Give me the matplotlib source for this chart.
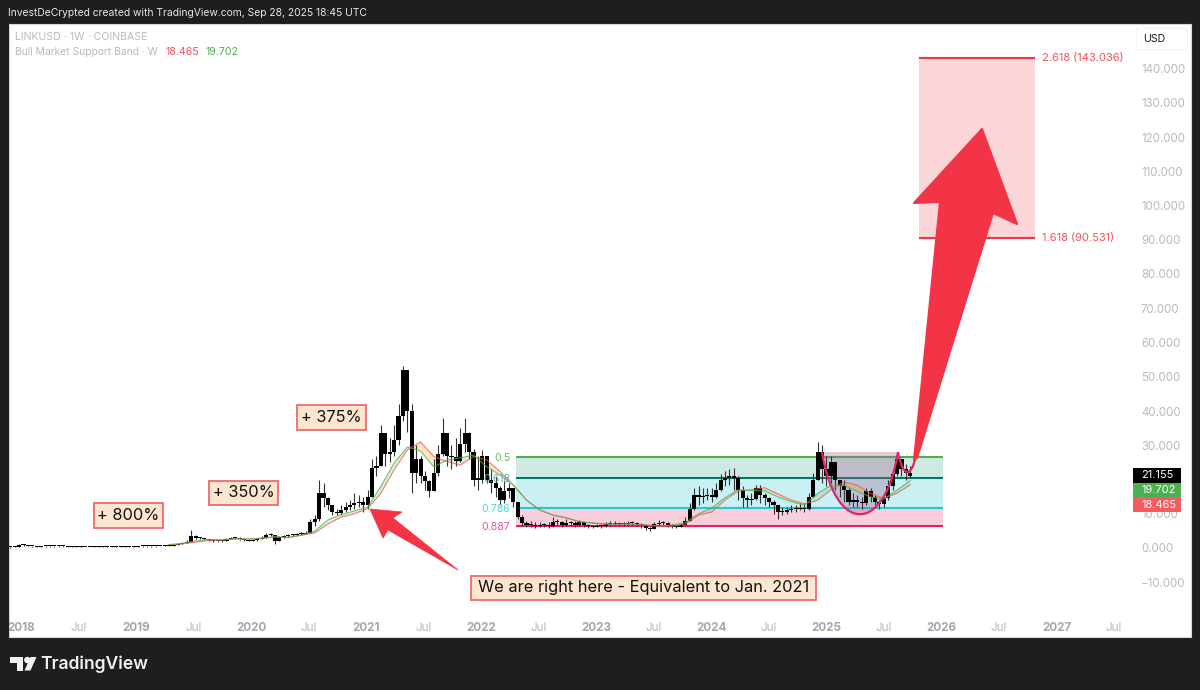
import numpy as np
import pandas as pd
import matplotlib
matplotlib.use("Agg")
import matplotlib.pyplot as plt
import matplotlib.dates as mdates
from matplotlib.patches import Polygon, Rectangle, Circle, PathPatch
from matplotlib.path import Path
from matplotlib.transforms import Affine2D

plt.rcParams['font.family'] = ['Inter', 'DejaVu Sans']

# ---------- data ----------
start_date = '2017-11-28'
closes = [
 0.2,0.3,0.8,0.9,0.7,0.5,0.4,0.5,0.5,0.5,
 0.5,0.5,0.45,0.4,0.4,0.35,0.35,0.3,0.3,0.35,
 0.35,0.4,0.4,0.4,0.4,0.4,0.4,0.4,0.4,0.45,
 0.45,0.5,0.5,0.5,0.5,0.6,0.7,0.9,1.2,1.5,
 1.8,3.5,3.0,2.8,2.5,2.3,2.0,1.9,2.1,2.5,
 2.8,3.0,2.6,2.2,2.1,2.2,2.6,3.0,3.8,3.8,
 2.1,3.2,3.6,3.7,3.9,4.0,4.2,4.5,7.5,8.5,
 16,14.5,12.5,10.5,10.2,11,12,12.5,13,13.5,
 12.5,15,23.5,24,33.5,27.5,28,31.5,38.5,52,
 40,22,26,21,19.5,16.5,22,27.5,33.5,27,
 26.5,25.5,30.5,33.5,28,20,20,27,20,19,
 17.5,14,16.5,17.5,13.5,9,7.2,6.8,6.7,6.5,
 6.8,6.6,6.3,7.5,7.5,6.8,7.3,7.2,6.8,7.6,
 6.6,6.3,6.2,6.5,6.3,7,7.1,7.2,7,7,
 7.4,7.2,7,6.6,5.9,5.6,6.9,7.4,7.2,6.6,
 6.4,6.2,6.8,8,11.5,15.5,15,15.3,15.6,15,
 17,20,20.5,21,20.5,17,14.5,14,14.3,17.5,
 15.5,14.5,13.5,12.5,10.5,10.5,11,11.5,11.5,11.8,
 11.5,15,20,28,23,21,25,20,18,17,
 13.5,14,13.5,13,16.5,15,13.5,12.8,14.5,18,
 21.5,26,23,22,21.155]
highs = [
 0.3,0.5,1.1,1.2,0.9,0.7,0.6,0.6,0.6,0.6,
 0.6,0.6,0.55,0.5,0.5,0.45,0.45,0.4,0.4,0.45,
 0.45,0.5,0.5,0.5,0.5,0.5,0.5,0.5,0.5,0.55,
 0.55,0.6,0.6,0.6,0.65,0.8,0.9,1.1,1.4,1.7,
 2.2,5.2,3.8,3.1,2.9,2.6,2.3,2.1,2.4,2.8,
 3.1,3.3,3.1,2.7,2.3,2.5,2.9,3.5,4.4,4.3,
 3.9,3.5,3.9,4.0,4.2,4.4,4.7,5.0,8.6,9.5,
 20,19,15,12.5,11.5,12.5,13.5,14,16,15.5,
 15,17,26,27,36,33,32,36,42,53,
 52,42,30,27,22.5,20,26,30,38,32,
 30,32,35,38,34,29,27,28.5,27,23,
 21,18,19.5,19,17,13,9.5,8,7.8,7.5,
 7.5,7.2,7.5,9,8.6,7.8,8.4,8,7.8,8.3,
 7.6,7,6.8,7,7,7.6,7.8,7.9,7.7,7.5,
 7.9,7.8,7.6,7.2,6.8,6.2,7.5,8.2,8.0,7.5,
 7,6.8,7.4,9,13,17.5,18,17.5,17.5,17.5,
 19,21.5,22.5,23,23.5,21,18,15.5,16,18.5,
 18.5,16,15,14,12.5,12,12,12.5,12.5,13,
 13,16,22,31,30,27,27,24,20,20,
 17.5,16,15.5,15,17.5,17.5,15.5,14,16,20,
 23,27.5,26,24.5,24]
lows = [
 0.1,0.2,0.3,0.6,0.5,0.4,0.3,0.4,0.4,0.4,
 0.4,0.4,0.35,0.3,0.3,0.3,0.25,0.25,0.25,0.3,
 0.3,0.3,0.3,0.3,0.3,0.3,0.3,0.3,0.3,0.4,
 0.4,0.4,0.4,0.4,0.45,0.5,0.6,0.7,0.9,1.1,
 1.4,1.8,2.7,2.5,2.2,2.0,1.8,1.7,1.8,2.1,
 2.5,2.5,2.2,2.0,1.9,2.0,2.1,2.5,2.9,3.4,
 1.2,2.0,3.0,3.2,3.4,3.7,3.8,4.0,4.3,6.5,
 8,12,11,9.5,9.5,9.5,10.5,11,11.5,12,
 10.5,11.5,15,21,24,24,25,27,30,37,
 34,16,19,19,17,15,16.5,21,27,24,
 23,24,25,28,26,18,17,19,19,16,
 15,12.5,13,14.5,12,8.5,6.5,6.0,6,5.8,
 6,6,5.7,6,6.6,6,6.5,6.5,6,6.5,
 6,5.7,5.7,6,5.8,6.2,6.5,6.6,6.4,6.5,
 6.8,6.6,6.3,5.9,5.2,5,5.6,6.8,6.5,6.2,
 5.9,5.7,6,6.8,8,11,12.5,13,14,13.5,
 14.5,16.5,18,18.5,17,14,12,12,12.5,14,
 13,12.5,12,10,8.5,9.5,10,10.5,10.5,11,
 10.5,11,15,20,19,18,19,17,15,13.5,
 12.5,12,12,11.5,12.5,13.5,12.5,11.5,12,14,
 17,21,21,20,20.5]

band_red = [
 1.0,1.2,1.7,2.2,2.3,2.7,2.6,2.8,3.2,3.0,3.7,4.4,7.0,9.0,10.0,11.5,16.0,22.8,28.6,31.0,
 26.7,25.2,24.2,26.7,25.7,22.3,18.4,14.0,11.1,9.6,8.8,7.7,7.3,7.0,7.0,7.0,6.7,6.4,6.4,7.0,
 9.6,10.5,14.0,16.6,17.0,17.6,15.8,14.0,12.9,13.9,17.0,19.3,18.3,15.9,14.5,16.0,18.465]
band_green = [
 1.0,1.3,2.1,2.5,2.4,2.7,2.6,2.9,3.3,3.1,3.8,4.9,8.2,9.8,10.8,12.0,18.0,24.8,29.5,28.3,
 23.7,25.7,26.3,27.1,23.7,21.3,18.4,14.0,11.1,9.6,8.8,7.7,7.3,7.0,7.0,7.0,6.7,6.4,6.7,7.4,
 10.0,11.7,14.7,17.0,16.8,16.7,14.9,13.5,12.5,15.9,18.3,18.3,16.5,14.9,14.3,16.9,19.702]

fib_ratios = ['0.5', '0.618', '0.786', '0.887']
fib_prices = [26.5, 20.4, 11.7, 6.3]
fib_dates = ['2022-04-20', '2026-01-05']
fib_line_colors = ['#4caf50', '#00796b', '#26c6da', '#e91e63']
fib_text_colors = ['#66bb6a', '#4db6ac', '#4dd0e1', '#e0559b']
fib_fill_colors = ['#cfe9e2', '#c9f0f3', '#f9cfdc']

target_labels = ['2.618 (143.036)', '1.618 (90.531)']
target_prices = [143.036, 90.531]
target_dates = ['2025-10-20', '2026-10-23']

price_ticks = list(range(-10, 150, 10))
year_ticks = [2018, 2019, 2020, 2021, 2022, 2023, 2024, 2025, 2026, 2027]
callouts = ['+ 800%', '+ 350%', '+ 375%', 'We are right here - Equivalent to Jan. 2021']
badges = [('21.155', '#000000'), ('19.702', '#4caf50'), ('18.465', '#f75a5f')]

# ---------- figure ----------
DARK = '#1e1e1e'
fig = plt.figure(figsize=(12, 6.9), dpi=100, facecolor=DARK)
PX = Affine2D().scale(1 / 1200, -1 / 690).translate(0, 1) + fig.transFigure

fig.patches.append(Rectangle((9, 24), 1182, 613, transform=PX, facecolor='white',
                             edgecolor='#d5d5d5', linewidth=0.8, zorder=-1))

L, R, T, B = 9, 1125, 24, 612
ax = fig.add_axes([L / 1200, 1 - B / 690, (R - L) / 1200, (B - T) / 690], facecolor='none')
d2018 = mdates.date2num(pd.Timestamp('2018-01-01'))
ppd = 115.1 / 365.25
ax.set_xlim(d2018 + (L - 21) / ppd, d2018 + (R - 21) / ppd)
ax.set_ylim((548 - B) / 3.425, (548 - T) / 3.425)
for s in ax.spines.values():
    s.set_visible(False)

# ticks
ax.yaxis.tick_right()
ax.set_yticks(price_ticks)
ax.set_yticklabels([(f'\u2212{abs(v)}.000' if v < 0 else f'{v}.000') for v in price_ticks])
ax.tick_params(axis='y', length=0, pad=11.5, labelsize=8.3, labelcolor='#b7bac2')
xt, xl = [], []
for y in year_ticks:
    xt += [mdates.date2num(pd.Timestamp(f'{y}-01-01')), mdates.date2num(pd.Timestamp(f'{y}-07-01'))]
    xl += [str(y), 'Jul']
ax.set_xticks(xt)
ax.set_xticklabels(xl)
ax.tick_params(axis='x', length=0, pad=7.5, labelsize=8.4, labelcolor='#b7bac2')
for lbl in ax.get_xticklabels():
    if lbl.get_text() != 'Jul':
        lbl.set_fontweight('bold')
        lbl.set_color('#a3a6af')

# fib zones
fx0, fx1 = [mdates.date2num(pd.Timestamp(d)) for d in fib_dates]
for i in range(3):
    ax.fill_between([fx0, fx1], fib_prices[i + 1], fib_prices[i], color=fib_fill_colors[i], lw=0, zorder=1)
for r, p, lc, tc in zip(fib_ratios, fib_prices, fib_line_colors, fib_text_colors):
    ax.plot([fx0, fx1], [p, p], color=lc, lw=1.5, zorder=1.5, solid_capstyle='butt')
    ax.text(fx0 - 5.5 / ppd, p - 0.2, r, color=tc, fontsize=7.6, ha='right', va='center', zorder=5)

# target zone
tx0, tx1 = [mdates.date2num(pd.Timestamp(d)) for d in target_dates]
ax.fill_between([tx0, tx1], target_prices[1], target_prices[0], color='#fbd5d8', lw=0, zorder=1)
for lab, p in zip(target_labels, target_prices):
    ax.plot([tx0, tx1], [p, p], color='#f23645', lw=1.5, zorder=1.5, solid_capstyle='butt')
    ax.text(tx1 + 7 / ppd, p, lab, color='#f0505c', fontsize=8.0, ha='left', va='center')

# cup shading and curve
CUB = [Path.MOVETO, Path.CURVE4, Path.CURVE4, Path.CURVE4]
cup = [(822, 452), (835, 535), (885, 535), (898, 452)]
handle = [(898, 452), (903, 478), (911, 478), (916, 456)]
ax.add_patch(PathPatch(Path(cup + [(822, 452)], CUB + [Path.CLOSEPOLY]), transform=PX,
                       facecolor='#9c5f8f', alpha=0.32, lw=0, zorder=2))
for seg in (cup, handle):
    ax.add_patch(PathPatch(Path(seg, CUB), transform=PX, facecolor='none', edgecolor='#e0246c', lw=1.6, zorder=6))

# candles
dates = pd.date_range(start_date, periods=len(closes), freq='14D')
xs = mdates.date2num(dates)
c = np.array(closes, float)
o = np.r_[c[0], c[:-1]]
ax.vlines(xs, lows, highs, color='#333333', lw=0.8, zorder=3)
ax.bar(xs, np.maximum(np.abs(c - o), 0.3), bottom=np.minimum(o, c), width=13, color='black', lw=0, zorder=3.2)

# bull market support band
bx = xs[36::3]
br, bg = np.array(band_red), np.array(band_green)
ax.fill_between(bx, br, bg, where=br >= bg, interpolate=True, color='#ff9800', alpha=0.25, lw=0, zorder=2.5)
ax.fill_between(bx, br, bg, where=br <= bg, interpolate=True, color='#4caf50', alpha=0.2, lw=0, zorder=2.5)
ax.plot(bx, br, color='#ef5350', lw=0.8, alpha=0.75, zorder=3.4)
ax.plot(bx, bg, color='#4caf50', lw=0.8, alpha=0.75, zorder=3.4)

# arrows (screen annotations)
big = [(914, 460), (940, 202), (914, 203), (982, 129), (1017, 224), (993, 213), (917, 458)]
small = [(370, 509), (402, 512), (393, 518), (458, 570), (388, 530), (383, 538)]
for pts, lw in ((big, 1.5), (small, 0.5)):
    ax.add_patch(Polygon(pts, closed=True, transform=PX, facecolor='#f33346', edgecolor='#f33346',
                         lw=lw, joinstyle='round', zorder=8, clip_on=False))

# call-out boxes
boxes = [(94, 503, 69, 25), (209, 481, 69, 24), (297, 405, 69, 25), (471, 576, 345, 24)]
for txt, (bx0, by0, w, h) in zip(callouts, boxes):
    ax.add_patch(Rectangle((bx0, by0), w, h, transform=PX, facecolor='#fde6cf', edgecolor='#f2696b',
                           lw=1.3, zorder=9, clip_on=False))
    ax.text(bx0 + w / 2, by0 + h / 2 - 0.5, txt, transform=PX, fontsize=11.8, color='#111111',
            ha='center', va='center', zorder=10, clip_on=False)

# header and legend
ax.text(8, 13, 'InvestDeCrypted created with TradingView.com, Sep 28, 2025 18:45 UTC', transform=PX,
        color='#e6e6e6', fontsize=7.45, va='center', clip_on=False)
ax.text(15, 37, 'LINKUSD \u00b7 1W \u00b7 COINBASE', transform=PX, color='#b7bac2', fontsize=7.6, va='center')
ax.text(15, 52, 'Bull Market Support Band \u00b7 W', transform=PX, color='#b7bac2', fontsize=7.45, va='center')
ax.text(166, 52, badges[2][0], transform=PX, color='#f0505c', fontsize=7.6, va='center')
ax.text(205, 52, badges[1][0], transform=PX, color='#4caf50', fontsize=7.6, va='center')

# USD box
ax.add_patch(Rectangle((1136, 28), 51, 21, transform=PX, facecolor='white', edgecolor='#f0f3fa',
                       lw=0.8, zorder=9, clip_on=False))
ax.text(1143.5, 38.5, 'USD', transform=PX, color='#131722', fontsize=7.6, va='center', zorder=10, clip_on=False)

# price badges
for (val, col), y0 in zip(badges, (468, 482.7, 497.3)):
    ax.add_patch(Rectangle((1133, y0), 47.7, 14.7, transform=PX, facecolor=col, lw=0, zorder=9, clip_on=False))
    ax.text(1141, y0 + 7.3, val, transform=PX, color='white', fontsize=7.9, va='center', zorder=10, clip_on=False)

# dark surround overlaps the clipped 2018 label
ax.add_patch(Rectangle((0, 24), 9, 613, transform=PX, facecolor=DARK, lw=0, zorder=12, clip_on=False))

# footer logo
white = '#f0f0f0'
ax.add_patch(Polygon([(10, 657), (23, 657), (23, 670.5), (17, 670.5), (17, 663), (10, 663)], closed=True,
                     transform=PX, facecolor=white, lw=0, clip_on=False))
ax.add_patch(Polygon([(36.5, 657), (30.5, 670.5), (24.5, 670.5), (30.5, 657)], closed=True,
                     transform=PX, facecolor=white, lw=0, clip_on=False))
ax.add_patch(Circle((27.3, 660), 3.2, transform=PX, facecolor=white, lw=0, clip_on=False))
ax.text(40, 664, 'TradingView', transform=PX, color=white, fontsize=12.6, fontweight='semibold',
        va='center', clip_on=False)

fig.savefig('out.png', dpi=100, facecolor=DARK)
